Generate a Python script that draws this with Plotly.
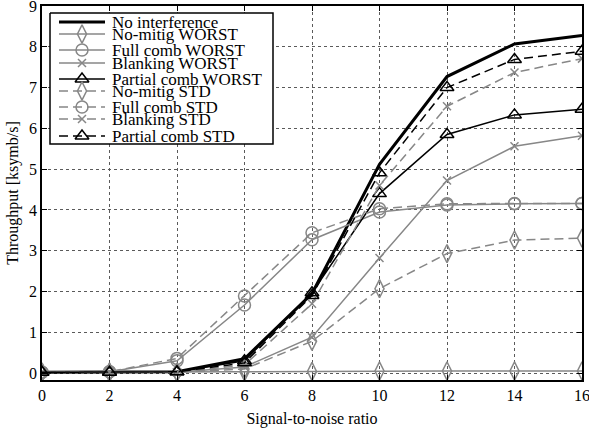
import plotly.graph_objects as go

snr = [0, 2, 4, 6, 8, 10, 12, 14, 16]
no_interference = [0.02, 0.02, 0.03, 0.35, 1.95, 5.12, 7.27, 8.07, 8.28]
nomitig_worst = [0.02, 0.02, 0.02, 0.03, 0.04, 0.05, 0.05, 0.05, 0.05]
fullcomb_worst = [0.02, 0.03, 0.30, 1.67, 3.27, 3.95, 4.12, 4.15, 4.16]
blanking_worst = [0.02, 0.02, 0.02, 0.15, 0.88, 2.82, 4.72, 5.56, 5.82]
partial_worst = [0.02, 0.02, 0.03, 0.30, 1.97, 4.40, 5.85, 6.33, 6.47]
nomitig_std = [0.02, 0.02, 0.02, 0.10, 0.78, 2.07, 2.93, 3.26, 3.31]
fullcomb_std = [0.02, 0.03, 0.36, 1.89, 3.44, 4.03, 4.15, 4.16, 4.16]
blanking_std = [0.02, 0.02, 0.02, 0.20, 1.70, 4.60, 6.54, 7.37, 7.71]
partial_std = [0.02, 0.02, 0.03, 0.25, 1.90, 4.91, 7.00, 7.69, 7.89]

GRAY = "rgb(135,135,135)"
BLACK = "black"
DASH = "9px,5px"
FONT = "Liberation Serif, DejaVu Serif, serif"

series = [
    ("No interference", no_interference, BLACK, 3, "solid", None),
    ("No-mitig WORST", nomitig_worst, GRAY, 1.5, "solid", "diamond-tall-open"),
    ("Full comb WORST", fullcomb_worst, GRAY, 1.5, "solid", "circle-open"),
    ("Blanking WORST", blanking_worst, GRAY, 1.5, "solid", "x-thin-open"),
    ("Partial comb WORST", partial_worst, BLACK, 1.5, "solid", "triangle-up-open"),
    ("No-mitig STD", nomitig_std, GRAY, 1.5, DASH, "diamond-tall-open"),
    ("Full comb STD", fullcomb_std, GRAY, 1.5, DASH, "circle-open"),
    ("Blanking STD", blanking_std, GRAY, 1.5, DASH, "x-thin-open"),
    ("Partial comb STD", partial_std, BLACK, 1.5, DASH, "triangle-up-open"),
]


def marker_for(sym, color):
    size = {"diamond-tall-open": 13, "circle-open": 12, "x-thin-open": 8,
            "triangle-up-open": 12}[sym]
    return dict(symbol=sym, size=size, color=color, line=dict(color=color, width=1.5))


fig = go.Figure()
for name, vals, color, w, dash, sym in series:
    if sym is None:
        fig.add_trace(go.Scatter(x=snr, y=vals, name=name, mode="lines", showlegend=False,
                                 line=dict(color=color, width=w, dash=dash)))
    else:
        fig.add_trace(go.Scatter(x=snr, y=vals, name=name, mode="lines+markers", showlegend=False,
                                 line=dict(color=color, width=w, dash=dash),
                                 marker=marker_for(sym, color)))

# ---- hand-built legend on a pixel-like overlay subplot ----
PL, PR, PT, PB = 42, 582, 6, 380
row_y = [22, 34, 50, 63, 79, 91, 107, 119, 136]
bx0, bx1, by0, by1 = 50, 273, 13, 144
line_x0, line_x1, mark_x, text_x = 59, 105, 82, 110

fig.add_trace(go.Scatter(x=[bx0, bx1, bx1, bx0, bx0], y=[by0, by0, by1, by1, by0],
                         mode="lines", fill="toself", fillcolor="white",
                         line=dict(color="black", width=1.5),
                         xaxis="x2", yaxis="y2", showlegend=False, hoverinfo="skip"))

for (name, vals, color, w, dash, sym), yy in zip(series, row_y):
    fig.add_trace(go.Scatter(x=[line_x0, line_x1], y=[yy, yy], mode="lines",
                             xaxis="x2", yaxis="y2", showlegend=False, hoverinfo="skip",
                             line=dict(color=color, width=w, dash=dash)))
    if sym is not None:
        fig.add_trace(go.Scatter(x=[mark_x], y=[yy], mode="markers",
                                 xaxis="x2", yaxis="y2", showlegend=False, hoverinfo="skip",
                                 marker=marker_for(sym, color)))
    fig.add_annotation(x=text_x, y=yy, xref="x2", yref="y2", text=name, showarrow=False,
                       xanchor="left", yanchor="middle",
                       font=dict(family=FONT, size=17, color="black"))

axis_common = dict(showline=True, linecolor="black", linewidth=1.5, mirror="ticks",
                   ticks="inside", ticklen=5, tickcolor="black",
                   showgrid=True, gridcolor="rgb(90,90,90)", griddash="dot", gridwidth=1,
                   zeroline=False, automargin=False, ticklabeloverflow="allow",
                   tickfont=dict(family=FONT, size=16, color="black"))

fig.update_layout(
    xaxis=dict(range=[0, 16], tickvals=snr, **axis_common,
               title=dict(text="Signal-to-noise ratio", font=dict(family=FONT, size=16, color="black"),
                          standoff=10)),
    yaxis=dict(range=[-0.17, 9], tickvals=list(range(10)), **axis_common,
               title=dict(text="Throughput [ksymb/s]", font=dict(family=FONT, size=16, color="black"),
                          standoff=6)),
    xaxis2=dict(overlaying="x", anchor="y2", range=[PL, PR], visible=False, fixedrange=True),
    yaxis2=dict(overlaying="y", anchor="x2", range=[PB, PT], visible=False, fixedrange=True),
    width=589, height=430,
    margin=dict(l=PL, r=589 - PR, t=PT, b=430 - PB),
    plot_bgcolor="white", paper_bgcolor="white",
    font=dict(family=FONT, size=16, color="black"),
    showlegend=False,
)

fig.write_html("out.html", config={"displayModeBar": False},
               post_script="document.body.style.margin='0px';document.body.style.overflow='hidden';")
